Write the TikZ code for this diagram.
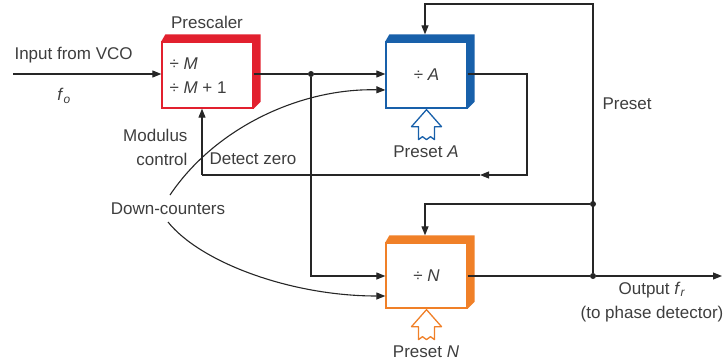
\documentclass[tikz,border=0pt]{standalone}
\usepackage{fontspec}
\setmainfont{Liberation Sans}
\usepackage{tikz}
\usetikzlibrary{arrows.meta}

\definecolor{prered}{RGB}{226,32,46}
\definecolor{ablue}{RGB}{24,96,170}
\definecolor{norange}{RGB}{240,128,40}
\definecolor{txtgray}{RGB}{62,62,62}

% shaded top and right edge of a counter block
\newcommand{\blockband}[2]{%
  \fill[#2] (#1.north west) -- ([xshift=4pt,yshift=7pt]#1.north west)
    -- ([xshift=7pt,yshift=7pt]#1.north east)
    -- ([xshift=7pt,yshift=7pt]#1.south east) -- (#1.south east)
    -- (#1.north east) -- cycle;}
% hollow preset arrow, tip at #1
\newcommand{\presetarrow}[2]{%
  \draw[#2, line width=1.3pt, fill=white, line join=round] (#1) -- ++(15,17)
    -- ++(-7,0) -- ++(0,13) -- ++(-4,-3) -- ++(-4,3) -- ++(-4,-3)
    -- ++(-4,3) -- ++(0,-13) -- ++(-7,0) -- cycle;}

\begin{document}
\begin{tikzpicture}[x=1pt, y=-1pt,
  every node/.style={font=\fontsize{17}{24}\selectfont, text=txtgray},
  wire/.style={line width=1.1pt, black!85},
  arr/.style={wire, -{Triangle[length=9pt,width=7pt]}},
  blockbox/.style={draw=#1, line width=1.3pt, fill=white, inner sep=0pt},
  jdot/.style={circle, fill=black!85, inner sep=0pt, minimum size=6pt}]
  \useasboundingbox (0,0) rectangle (727,362);

  % blocks
  \node[blockbox=prered, minimum width=91pt, minimum height=66pt]
    (pre) at (207.5,75) {};
  \blockband{pre}{prered}
  \node[anchor=west, align=left] (prediv) at (166,76)
    {÷ \textit{M}\\÷ \textit{M} + 1};
  \node (prelbl) at (207,22) {Prescaler};

  \node[blockbox=ablue, minimum width=81pt, minimum height=66pt]
    (ablk) at (426.5,75) {÷ \textit{A}};
  \blockband{ablk}{ablue}
  \presetarrow{[yshift=-1pt]ablk.south}{ablue}
  \node (alb) at (426,152) {Preset \textit{A}};

  \node[blockbox=norange, minimum width=81pt, minimum height=65pt]
    (nblk) at (426.5,275.5) {÷ \textit{N}};
  \blockband{nblk}{norange}
  \presetarrow{[yshift=-1pt]nblk.south}{norange}
  \node (nlb) at (426,352) {Preset \textit{N}};

  % labels
  \node[anchor=west] (vco) at (11,55) {Input from VCO};
  \node (fo) at (64,96) {\textit{f}\textsubscript{\textit{o}}};
  \node[align=right, anchor=east] (modc) at (191,147) {Modulus\\control};
  \node[anchor=west] (dz) at (206,159) {Detect zero};
  \node (dc) at (168,209) {Down-counters};
  \node[anchor=west] (prs) at (599,104) {Preset};
  \node[align=center] (outl) at (652,302)
    {Output \textit{f}\textsubscript{\textit{r}}\\(to phase detector)};

  % junctions and corners
  \node[jdot] (j1) at (311,74) {};
  \node[jdot] (j2) at (593,204) {};
  \node[jdot] (j3) at (593,276) {};
  \coordinate (vin) at (13,74);
  \coordinate (fout) at (722,276);
  \coordinate (dzr) at (527,175);
  \coordinate (dzm) at (480,175);
  \coordinate (dzl) at (202,175);
  \coordinate (ptop) at (593,4);
  \coordinate (patop) at (425,4);
  \coordinate (pnbend) at (425,204);

  % signal path
  \draw[arr] (vin) -- (pre.west |- vin);
  \draw[wire] (pre.east |- j1) -- (j1);
  \draw[arr] (j1) -- (ablk.west |- j1);
  \draw[arr] (j1) |- (nblk.west |- j3);
  \draw[wire] (nblk.east |- j3) -- (j3);
  \draw[arr] (j3) -- (fout);

  % detect zero loop
  \draw[arr] (ablk.east |- j1) -| (dzr) -- (dzm);
  \draw[wire] (dzm) -- (dzl);
  \draw[arr] (dzl) -- (dzl |- pre.south);

  % preset lines
  \draw[arr] (j3) -- (ptop) -- (patop) -- ([yshift=7pt]ablk.north -| patop);
  \draw[arr] (j2) -- (pnbend) -- ([yshift=7pt]nblk.north -| pnbend);

  % down-counter pointers
  \draw[arr] (170,195) .. controls (215,128) and (300,88) .. (ablk.west |- 0,90);
  \draw[arr] (168,222) .. controls (200,262) and (290,296) .. (nblk.west |- 0,296);
\end{tikzpicture}
\end{document}
